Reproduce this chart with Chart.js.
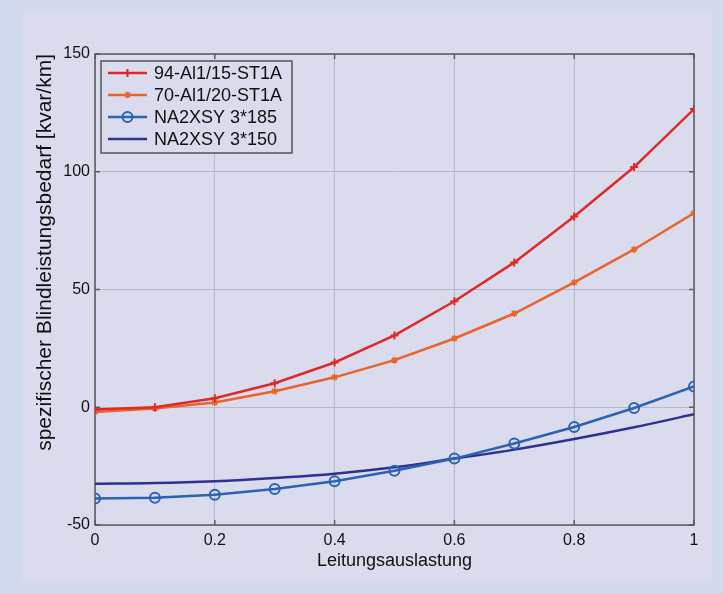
<!DOCTYPE html>
<html>
<head>
<meta charset="utf-8">
<script src="https://cdn.jsdelivr.net/npm/chart.js@4"></script>
<style>
  body { margin: 0; background: #d4daee; }
  canvas { display: block; }
</style>
</head>
<body>
<canvas id="chart" width="723" height="593"></canvas>
<script>
// Leitungsauslastung (x) and spezifischer Blindleistungsbedarf [kvar/km] (y)
const loading = [0, 0.1, 0.2, 0.3, 0.4, 0.5, 0.6, 0.7, 0.8, 0.9, 1];
const al94 = [-1, 0, 3.8, 10.2, 19, 30.5, 45, 61.5, 81, 102, 126.6];
const al70 = [-2, -0.5, 2, 6.8, 12.7, 20, 29.2, 39.8, 53, 67, 82.5];
const na185 = [-38.7, -38.4, -37.2, -34.7, -31.4, -27, -21.8, -15.4, -8.4, -0.3, 8.8];
const na150 = [-32.5, -32.2, -31.4, -30, -28.2, -25.5, -21.8, -18, -13.5, -8.5, -3];
const names = ['94-Al1/15-ST1A', '70-Al1/20-ST1A', 'NA2XSY 3*185', 'NA2XSY 3*150'];
const xTicks = [0, 0.2, 0.4, 0.6, 0.8, 1];
const yTicks = [-50, 0, 50, 100, 150];

const panelBg = '#dadcee';
const fontFamily = '"Liberation Sans", Arial, sans-serif';
const textColor = '#111';

function points(ys) {
    return loading.map((x, i) => ({ x: x, y: ys[i] }));
}

//background panel, plot box with inner ticks
const framePlugin = {
    id: 'frame',
    beforeDraw(chart) {
        const ctx = chart.ctx;
        ctx.save();
        ctx.fillStyle = '#d4daee';
        ctx.fillRect(0, 0, chart.width, chart.height);
        ctx.fillStyle = panelBg;
        ctx.fillRect(22, 12, 691, 570);
        ctx.restore();
    },
    beforeDatasetsDraw(chart) {
        const { ctx, chartArea: a, scales } = chart;
        ctx.save();
        ctx.strokeStyle = '#5a5a5a';
        ctx.lineWidth = 1.5;
        ctx.strokeRect(a.left, a.top, a.right - a.left, a.bottom - a.top);
        ctx.beginPath();
        xTicks.forEach(v => {
            const px = scales.x.getPixelForValue(v);
            ctx.moveTo(px, a.bottom); ctx.lineTo(px, a.bottom - 5);
            ctx.moveTo(px, a.top); ctx.lineTo(px, a.top + 5);
        });
        yTicks.forEach(v => {
            const py = scales.y.getPixelForValue(v);
            ctx.moveTo(a.left, py); ctx.lineTo(a.left + 5, py);
            ctx.moveTo(a.right, py); ctx.lineTo(a.right - 5, py);
        });
        ctx.stroke();
        ctx.restore();
    }
};

//boxed legend in the upper left corner, like the matlab one
const legendPlugin = {
    id: 'boxLegend',
    afterDraw(chart) {
        const ctx = chart.ctx;
        const left = 101, top = 61, w = 191, h = 92;
        ctx.save();
        ctx.fillStyle = panelBg;
        ctx.fillRect(left, top, w, h);
        ctx.strokeStyle = '#555';
        ctx.lineWidth = 1.5;
        ctx.strokeRect(left, top, w, h);
        ctx.font = '18px ' + fontFamily;
        ctx.textBaseline = 'middle';
        chart.data.datasets.forEach((ds, i) => {
            const y = top + 12 + i * 22;
            ctx.strokeStyle = ds.borderColor;
            ctx.lineWidth = ds.borderWidth;
            ctx.beginPath();
            ctx.moveTo(108, y);
            ctx.lineTo(147, y);
            ctx.stroke();
            if (ds.pointRadius > 0) {
                ctx.strokeStyle = ds.pointBorderColor;
                ctx.fillStyle = 'rgba(0,0,0,0)';
                ctx.lineWidth = ds.pointBorderWidth;
                Chart.helpers.drawPoint(ctx, {
                    pointStyle: ds.pointStyle,
                    radius: ds.pointRadius,
                    rotation: 0,
                    borderWidth: ds.pointBorderWidth
                }, 127.5, y);
            }
            ctx.fillStyle = textColor;
            ctx.fillText(ds.label, 154, y + 1);
        });
        ctx.restore();
    }
};

const ctx = document.getElementById('chart').getContext('2d');
new Chart(ctx, {
    type: 'line',
    data: {
        datasets: [{
            label: names[0],
            data: points(al94),
            borderColor: '#de2a26',
            borderWidth: 2.5,
            pointStyle: 'cross',
            pointRadius: 4,
            pointBorderColor: '#de2a26',
            pointBorderWidth: 2,
            pointBackgroundColor: 'rgba(0,0,0,0)',
            tension: 0
        }, {
            label: names[1],
            data: points(al70),
            borderColor: '#e8642c',
            borderWidth: 2.5,
            pointStyle: 'star',
            pointRadius: 3.5,
            pointBorderColor: '#e8642c',
            pointBorderWidth: 1.5,
            pointBackgroundColor: 'rgba(0,0,0,0)',
            tension: 0
        }, {
            label: names[2],
            data: points(na185),
            borderColor: '#2a62b4',
            borderWidth: 2.5,
            pointStyle: 'circle',
            pointRadius: 5,
            pointBorderColor: '#2a62b4',
            pointBorderWidth: 2,
            pointBackgroundColor: 'rgba(0,0,0,0)',
            tension: 0
        }, {
            label: names[3],
            data: points(na150),
            borderColor: '#2e3192',
            borderWidth: 2.5,
            pointRadius: 0,
            tension: 0.4
        }]
    },
    options: {
        responsive: false,
        animation: false,
        layout: { padding: { left: 20, top: 54, right: 29, bottom: 12 } },
        plugins: {
            legend: { display: false },
            tooltip: { enabled: false }
        },
        scales: {
            x: {
                type: 'linear',
                min: 0,
                max: 1,
                afterFit: scale => { scale.height = 56; },
                afterBuildTicks: scale => { scale.ticks = xTicks.map(v => ({ value: v })); },
                grid: { color: '#b6b9ca', lineWidth: 1, drawTicks: false },
                border: { display: false },
                ticks: {
                    padding: 6,
                    color: textColor,
                    font: { family: fontFamily, size: 16 },
                    callback: v => String(v)
                },
                title: {
                    display: true,
                    text: 'Leitungsauslastung',
                    color: textColor,
                    font: { family: fontFamily, size: 18 },
                    padding: { top: 0, bottom: 9 }
                }
            },
            y: {
                min: -50,
                max: 150,
                afterFit: scale => { scale.width = 75; },
                afterBuildTicks: scale => { scale.ticks = yTicks.map(v => ({ value: v })); },
                grid: { color: '#b6b9ca', lineWidth: 1, drawTicks: false },
                border: { display: false },
                ticks: {
                    padding: 5,
                    color: textColor,
                    font: { family: fontFamily, size: 16 }
                },
                title: {
                    display: true,
                    text: 'spezifischer Blindleistungsbedarf [kvar/km]',
                    align: 'end',
                    color: textColor,
                    font: { family: fontFamily, size: 21 },
                    padding: { top: 13, bottom: 0 }
                }
            }
        }
    },
    plugins: [framePlugin, legendPlugin]
});
</script>
</body>
</html>
